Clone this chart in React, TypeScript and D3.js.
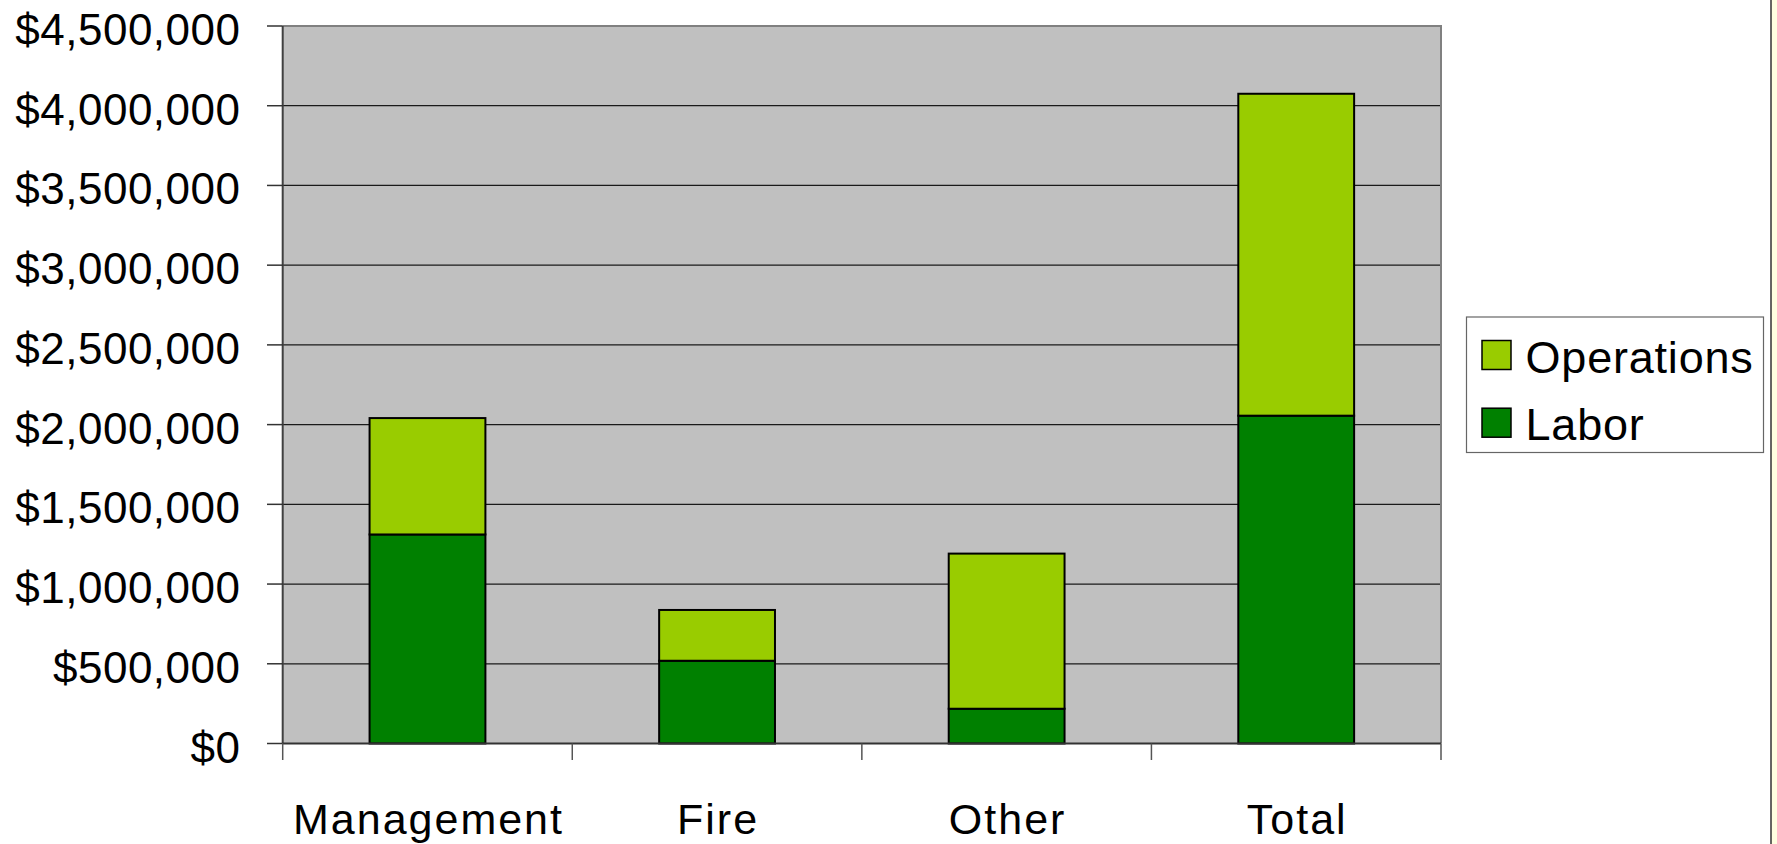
import React, { useEffect, useRef } from 'react';
import * as d3 from 'd3';

const categories = ['Management', 'Fire', 'Other', 'Total'];
const labor = [1311000, 519000, 218000, 2056000];
const operations = [730000, 318500, 973000, 2019000];
const yTicks = [0, 500000, 1000000, 1500000, 2000000, 2500000, 3000000, 3500000, 4000000, 4500000];
const seriesNames = ['Operations', 'Labor'];

const W = 1777;
const H = 844;
const FONT = '"Liberation Sans", Arial, sans-serif';

const App = () => {
  const svgRef = useRef<SVGSVGElement>(null);

  useEffect(() => {
    const svg = d3.select(svgRef.current);
    svg.selectAll('*').remove();

    const plot = { left: 282.7, right: 1441, top: 26, bottom: 743.5 };

    const rows = categories.map((c, i) => ({ cat: c, labor: labor[i], operations: operations[i] }));
    const stacked = d3.stack<any>().keys(['labor', 'operations'])(rows);

    const x = d3
      .scaleBand()
      .domain(categories)
      .range([plot.left, plot.right])
      .paddingInner(0.6)
      .paddingOuter(0.3);
    const y = d3.scaleLinear().domain([0, 4500000]).range([plot.bottom, plot.top]);
    const color = d3.scaleOrdinal<string>().domain(['labor', 'operations']).range(['#008000', '#99CC00']);

    // background + right strip
    svg.append('rect').attr('x', 0).attr('y', 0).attr('width', W).attr('height', H).attr('fill', '#fff');
    svg.append('rect').attr('x', 1771).attr('y', 0).attr('width', 6).attr('height', H).attr('fill', '#FFFFE0');
    svg.append('line').attr('x1', 1771).attr('x2', 1771).attr('y1', 0).attr('y2', H)
      .attr('stroke', '#333').attr('stroke-width', 1.5);

    // plot area
    svg.append('rect')
      .attr('x', plot.left).attr('y', plot.top)
      .attr('width', plot.right - plot.left).attr('height', plot.bottom - plot.top)
      .attr('fill', '#C0C0C0');

    // gridlines
    svg.append('g')
      .selectAll('line')
      .data(yTicks.slice(1, -1))
      .enter()
      .append('line')
      .attr('x1', plot.left).attr('x2', plot.right)
      .attr('y1', (d) => y(d)).attr('y2', (d) => y(d))
      .attr('stroke', '#1a1a1a').attr('stroke-width', 1.3);

    // plot border top/right
    svg.append('path')
      .attr('d', `M${plot.left},${plot.top}H${plot.right}V${plot.bottom}`)
      .attr('fill', 'none').attr('stroke', '#808080').attr('stroke-width', 2);

    // bars
    svg.append('g')
      .selectAll('g')
      .data(stacked)
      .enter()
      .append('g')
      .attr('fill', (d) => color(d.key))
      .selectAll('rect')
      .data((d) => d)
      .enter()
      .append('rect')
      .attr('x', (d: any) => x(d.data.cat) as number)
      .attr('y', (d) => y(d[1]))
      .attr('width', x.bandwidth())
      .attr('height', (d) => y(d[0]) - y(d[1]))
      .attr('stroke', '#000')
      .attr('stroke-width', 2);

    // axes lines
    svg.append('line').attr('x1', plot.left).attr('x2', plot.left).attr('y1', plot.top).attr('y2', plot.bottom)
      .attr('stroke', '#404040').attr('stroke-width', 2);
    svg.append('line').attr('x1', plot.left).attr('x2', plot.right).attr('y1', plot.bottom).attr('y2', plot.bottom)
      .attr('stroke', '#333').attr('stroke-width', 2);

    // y ticks + labels
    const fmt = d3.format('$,.0f');
    const yAxis = svg.append('g');
    yAxis.selectAll('line')
      .data(yTicks)
      .enter()
      .append('line')
      .attr('x1', 267).attr('x2', plot.left)
      .attr('y1', (d) => y(d)).attr('y2', (d) => y(d))
      .attr('stroke', '#333').attr('stroke-width', 1.5);
    yAxis.selectAll('text')
      .data(yTicks)
      .enter()
      .append('text')
      .attr('x', 240.5)
      .attr('y', (d) => y(d) + 19)
      .attr('text-anchor', 'end')
      .attr('font-family', FONT)
      .attr('font-size', 44)
      .attr('letter-spacing', 0.5)
      .attr('fill', '#000')
      .text((d) => fmt(d));

    // x ticks + labels
    const step = x.step();
    const edges = d3.range(categories.length + 1).map((i) => plot.left + i * step);
    svg.append('g')
      .selectAll('line')
      .data(edges)
      .enter()
      .append('line')
      .attr('x1', (d) => d).attr('x2', (d) => d)
      .attr('y1', plot.bottom).attr('y2', 760)
      .attr('stroke', '#555').attr('stroke-width', 1.5);
    svg.append('g')
      .selectAll('text')
      .data(categories)
      .enter()
      .append('text')
      .attr('x', (d) => (x(d) as number) + x.bandwidth() / 2 + 1)
      .attr('y', 834)
      .attr('text-anchor', 'middle')
      .attr('font-family', FONT)
      .attr('font-size', 43)
      .attr('letter-spacing', 2)
      .attr('fill', '#000')
      .text((d) => d);

    // legend
    const legend = svg.append('g');
    legend.append('rect')
      .attr('x', 1466.5).attr('y', 317).attr('width', 297).attr('height', 135.5)
      .attr('fill', '#fff').attr('stroke', '#666').attr('stroke-width', 1.2);
    const items = legend.selectAll('g.item')
      .data(seriesNames)
      .enter()
      .append('g')
      .attr('class', 'item')
      .attr('transform', (d, i) => `translate(0,${i * 67.7})`);
    items.append('rect')
      .attr('x', 1482).attr('y', 340.5).attr('width', 29).attr('height', 29)
      .attr('fill', (d) => color(d.toLowerCase()))
      .attr('stroke', '#000').attr('stroke-width', 1.5);
    items.append('text')
      .attr('x', 1525.5).attr('y', 372.5)
      .attr('font-family', FONT)
      .attr('font-size', 45)
      .attr('letter-spacing', 0.8)
      .attr('fill', '#000')
      .text((d) => d);
  }, []);

  return (
    <svg
      ref={svgRef}
      width={W}
      height={H}
      style={{ position: 'absolute', left: 0, top: 0, display: 'block' }}
    ></svg>
  );
};

export default App;
